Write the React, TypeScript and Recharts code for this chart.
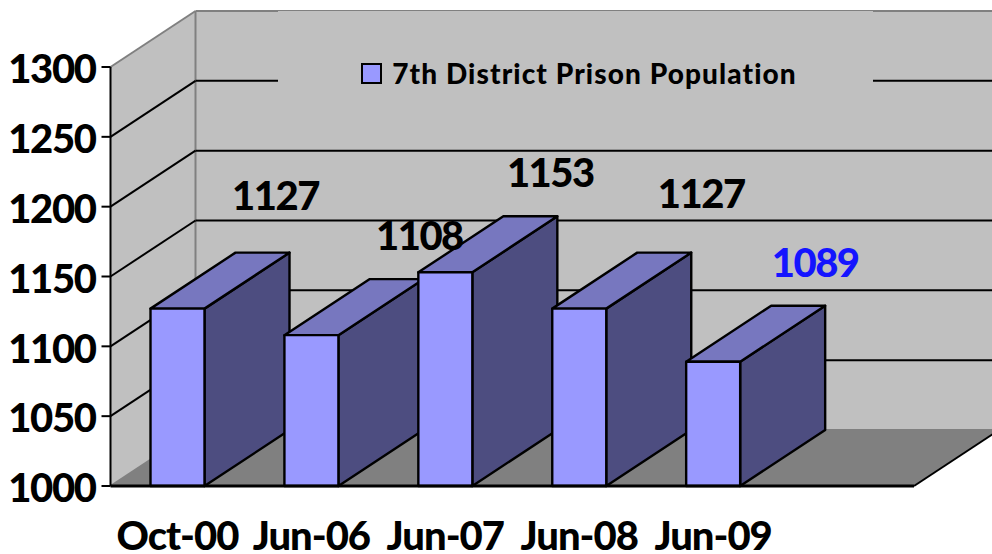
import React from "react";
import {
  BarChart,
  Bar,
  XAxis,
  YAxis,
  Legend,
  LabelList,
  ReferenceArea,
  ReferenceLine,
} from "recharts";

const categories = ["Oct-00", "Jun-06", "Jun-07", "Jun-08", "Jun-09", ""];
const population = [1127, 1108, 1153, 1127, 1089, null];
const yTicks = [1000, 1050, 1100, 1150, 1200, 1250, 1300];

const data = categories.map((month, i) => ({ month, population: population[i] }));

const FONT = "Lato, Carlito, sans-serif";
const DEPTH_X = 85;
const DEPTH_Y = 56;

// hand placed in the original, so each label has its own nudge from the bar top
const labelNudge = [
  { dx: 98, dy: -114 },
  { dx: 108, dy: -100 },
  { dx: 105, dy: -100 },
  { dx: 122, dy: -116 },
  { dx: 102, dy: -100 },
];
const labelColors = ["#000000", "#000000", "#000000", "#000000", "#1414ff"];

const Walls = ({ x, y, width, height }: any) => {
  const bottom = y + height;
  const right = x + width;
  return (
    <g>
      <polygon
        points={`${x},${y} ${x + DEPTH_X},${y - DEPTH_Y} ${x + DEPTH_X},${bottom - DEPTH_Y} ${x},${bottom}`}
        fill="#c0c0c0"
      />
      <rect x={x + DEPTH_X} y={y - DEPTH_Y} width={width} height={height} fill="#c0c0c0" />
      <polygon
        points={`${x},${bottom} ${x + DEPTH_X},${bottom - DEPTH_Y} ${right + DEPTH_X},${bottom - DEPTH_Y} ${right},${bottom}`}
        fill="#808080"
      />
      <line
        x1={x + DEPTH_X}
        y1={y - DEPTH_Y}
        x2={x + DEPTH_X}
        y2={bottom - DEPTH_Y}
        stroke="#808080"
        strokeWidth={2}
      />
      <line x1={right} y1={bottom} x2={right + DEPTH_X} y2={bottom - DEPTH_Y} stroke="#000000" strokeWidth={2} />
    </g>
  );
};

const GridLine = ({ x1, y1, x2, gray }: any) => {
  const stroke = gray ? "#808080" : "#000000";
  const left = Math.min(x1, x2);
  const right = Math.max(x1, x2);
  return (
    <g fill="none" stroke={stroke} strokeWidth={2}>
      <line x1={left} y1={y1} x2={left + DEPTH_X} y2={y1 - DEPTH_Y} />
      <line x1={left + DEPTH_X} y1={y1 - DEPTH_Y} x2={right + DEPTH_X} y2={y1 - DEPTH_Y} />
    </g>
  );
};

const Box3D = ({ x, y, width, height }: any) => {
  if (!height) return null;
  const r = x + width;
  const b = y + height;
  return (
    <g stroke="#000000" strokeWidth={2.4} strokeLinejoin="round">
      <polygon
        points={`${r},${y} ${r + DEPTH_X},${y - DEPTH_Y} ${r + DEPTH_X},${b - DEPTH_Y} ${r},${b}`}
        fill="#4d4d80"
      />
      <polygon
        points={`${x},${y} ${x + DEPTH_X},${y - DEPTH_Y} ${r + DEPTH_X},${y - DEPTH_Y} ${r},${y}`}
        fill="#7777bf"
      />
      <rect x={x} y={y} width={width} height={height} fill="#9999ff" />
    </g>
  );
};

const ValueLabel = ({ x, y, width, value, index }: any) => {
  if (value == null) return null;
  const nudge = labelNudge[index];
  return (
    <text
      x={x + width / 2 + nudge.dx}
      y={y + nudge.dy}
      textAnchor="middle"
      dominantBaseline="central"
      fontFamily={FONT}
      fontWeight={900}
      fontSize={40}
      letterSpacing={-1.5}
      fill={labelColors[index]}
    >
      {value}
    </text>
  );
};

const LegendBox = () => (
  <div
    style={{
      width: 595,
      height: 124,
      background: "#c0c0c0",
      display: "flex",
      alignItems: "center",
      justifyContent: "center",
      fontFamily: FONT,
      fontWeight: 900,
      fontSize: 28,
      letterSpacing: 1.1,
      color: "#000",
      paddingLeft: 7,
      boxSizing: "border-box",
    }}
  >
    <span
      style={{
        width: 17,
        height: 17,
        background: "#9999ff",
        border: "2px solid #000",
        marginRight: 10,
        boxSizing: "content-box",
      }}
    />
    7th District Prison Population
  </div>
);

export default function App() {
  return (
    <div style={{ position: "absolute", left: 0, top: 0 }}>
      <BarChart
        width={992}
        height={554}
        data={data}
        margin={{ top: 67, right: 78, bottom: 0, left: 0 }}
      >
        <XAxis
          dataKey="month"
          interval={0}
          height={68}
          tickLine={false}
          axisLine={{ stroke: "#000000", strokeWidth: 3 }}
          tickMargin={30}
          tick={{ fontFamily: FONT, fontWeight: 900, fontSize: 40, letterSpacing: -1, fill: "#000000" }}
        />
        <YAxis
          domain={[1000, 1300]}
          ticks={yTicks}
          width={110.5}
          interval={0}
          tickSize={9}
          tickMargin={6}
          tickLine={{ stroke: "#000000", strokeWidth: 2 }}
          axisLine={{ stroke: "#000000", strokeWidth: 2 }}
          tick={{ fontFamily: FONT, fontWeight: 900, fontSize: 40, letterSpacing: -1.4, dy: 2, fill: "#000000" }}
        />
        <ReferenceArea y1={1000} y2={1300} shape={<Walls />} />
        {yTicks.map((v) => (
          <ReferenceLine
            key={v}
            y={v}
            zIndex={150}
            shape={<GridLine gray={v === 1000 || v === 1300} />}
          />
        ))}
        <Legend
          layout="horizontal"
          verticalAlign="middle"
          align="center"
          content={<LegendBox />}
          wrapperStyle={{ position: "absolute", left: 278, top: 11, width: 595 }}
        />
        <Bar
          dataKey="population"
          barSize={54}
          isAnimationActive={false}
          shape={<Box3D />}
        >
          <LabelList content={<ValueLabel />} />
        </Bar>
      </BarChart>
    </div>
  );
}
